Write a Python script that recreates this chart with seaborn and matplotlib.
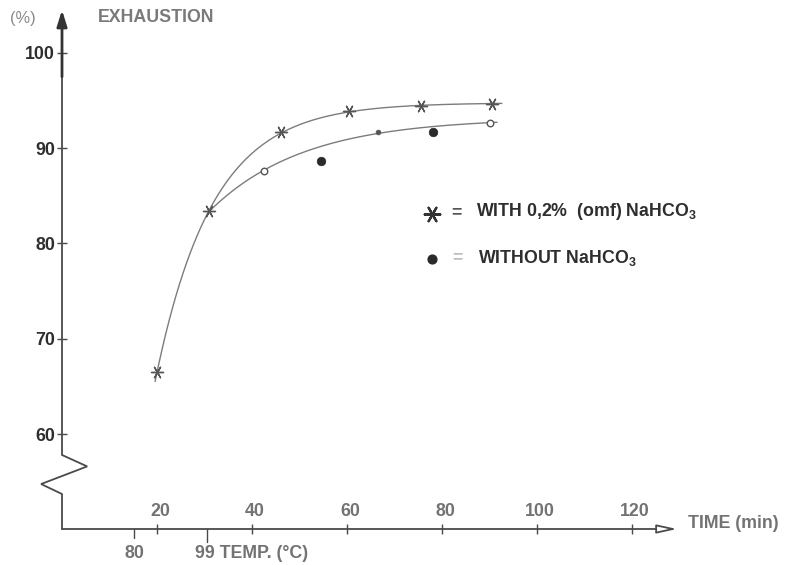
import numpy as np
import pandas as pd
import matplotlib
matplotlib.use("Agg")
import matplotlib.pyplot as plt
import matplotlib.transforms as mtransforms
import seaborn as sns

# ---- readings -------------------------------------------------------------
# dyeing with 0.2 % (omf) NaHCO3
with_time = [20, 31, 46, 60.5, 75.5, 90.5]
with_pct = [66.5, 83.4, 91.7, 93.9, 94.4, 94.65]

# dyeing without NaHCO3
without_time = [42.5, 54.5, 66.5, 78, 90]
without_pct = [87.6, 88.7, 91.7, 91.7, 92.6]
without_kind = ["open", "filled", "dot", "filled", "open"]   # open/dot lie on the drawn curve

time_ticks = [20, 40, 60, 80, 100, 120]
pct_ticks = [60, 70, 80, 90, 100]

# temperature scale under the time axis (heating ramp reaches 99 °C)
temp_time = [15.2, 30.5]
temp_labels = ["80", "99"]

# ---- style ----------------------------------------------------------------
sns.set_theme(style="white")
plt.rcParams["font.family"] = ["Liberation Sans", "DejaVu Sans"]
plt.rcParams["font.weight"] = "bold"
plt.rcParams["mathtext.fontset"] = "custom"
plt.rcParams["mathtext.rm"] = "Liberation Sans:bold"
plt.rcParams["mathtext.it"] = "Liberation Sans:bold"
plt.rcParams["mathtext.bf"] = "Liberation Sans:bold"

AXIS = "#4a4a4a"
CURVE = "#7c7c7c"
MARK = "#555555"
DARK = "#2e2e2e"
GREY = "#737373"
FS = 12.8

W, H = 785, 565
fig = plt.figure(figsize=(W / 100, H / 100), dpi=100)


def fx(x):
    return x / W


def fy(y):
    return 1 - y / H


ax = fig.add_axes([fx(62), fy(529), 615 / W, 519 / H])
XMAX, YMIN, YMAX = 129.47, 50.03, 104.51
ax.set_xlim(0, XMAX)
ax.set_ylim(YMIN, YMAX)
for s in ax.spines.values():
    s.set_visible(False)
ax.patch.set_alpha(0)


def saturating_fit(t, v):
    """Least-squares fit of v = a - b*exp(-k t)."""
    t = np.asarray(t, float)
    v = np.asarray(v, float)
    best = None
    for k in np.linspace(0.005, 0.3, 3000):
        X = np.column_stack([np.ones_like(t), -np.exp(-k * t)])
        coef = np.linalg.lstsq(X, v, rcond=None)[0]
        err = np.sum((X @ coef - v) ** 2)
        if best is None or err < best[0]:
            best = (err, coef[0], coef[1], k)
    _, a, b, k = best
    return lambda x: a - b * np.exp(-k * x)


# ---- curves ---------------------------------------------------------------
f_with = saturating_fit(with_time, with_pct)
tw = np.linspace(19.6, 92.6, 300)
sns.lineplot(x=tw, y=f_with(tw), ax=ax, color=CURVE, lw=1.0, sort=False,
             estimator=None, zorder=2)

on_curve = [k != "filled" for k in without_kind]
fit_t = [with_time[1]] + [t for t, o in zip(without_time, on_curve) if o]
fit_v = [with_pct[1]] + [v for v, o in zip(without_pct, on_curve) if o]
f_without = saturating_fit(fit_t, fit_v)
tn = np.linspace(with_time[1], 91.6, 300)
sns.lineplot(x=tn, y=f_without(tn), ax=ax, color=CURVE, lw=1.0, sort=False,
             estimator=None, zorder=2)

# ---- markers --------------------------------------------------------------
ASTER = (6, 2, 90)
sns.scatterplot(x=with_time, y=with_pct, ax=ax, marker=ASTER, s=75,
                color=MARK, linewidth=1.0, zorder=3)

df = pd.DataFrame({"t": without_time, "v": without_pct, "kind": without_kind})
d = df[df.kind == "open"]
sns.scatterplot(data=d, x="t", y="v", ax=ax, marker="o", s=22,
                facecolor="white", edgecolor=MARK, linewidth=1.0, zorder=3)
d = df[df.kind == "dot"]
sns.scatterplot(data=d, x="t", y="v", ax=ax, marker="o", s=12,
                color=MARK, edgecolor=MARK, linewidth=0.5, zorder=3)
d = df[df.kind == "filled"]
sns.scatterplot(data=d, x="t", y="v", ax=ax, marker="o", s=38,
                color="#2a2a2a", edgecolor="#2a2a2a", linewidth=0.5, zorder=3)
ax.set_xlabel("")
ax.set_ylabel("")

# ---- axes lines -----------------------------------------------------------
# time axis with open arrow head
ax.annotate("", xy=(XMAX, YMIN), xytext=(0, YMIN), xycoords="data",
            arrowprops=dict(arrowstyle="-|>,head_length=1.0,head_width=0.22",
                            color=AXIS, fc="white", lw=1.3,
                            shrinkA=0, shrinkB=0),
            annotation_clip=False)
# exhaustion axis with a break below 60 %
ax.plot([0, 0, -4.4, 5.3, 0, 0], [YMIN, 53.7, 54.75, 56.6, 57.8, 98],
        color=AXIS, lw=1.3, clip_on=False, solid_joinstyle="miter")
ax.annotate("", xy=(0, YMAX), xytext=(0, 97.5), xycoords="data",
            arrowprops=dict(arrowstyle="-|>,head_length=0.8,head_width=0.25",
                            color="#333333", lw=2.0, shrinkA=0, shrinkB=0),
            annotation_clip=False)

# ---- ticks ----------------------------------------------------------------
ax.set_yticks(pct_ticks)
ax.set_yticklabels([str(v) for v in pct_ticks])
ax.tick_params(axis="y", direction="inout", length=7, width=1.0,
               color=AXIS, pad=1.5, labelsize=FS, labelcolor=DARK, left=True)
ax.set_xticks(time_ticks)
ax.set_xticklabels([str(v) for v in time_ticks])
ax.tick_params(axis="x", direction="inout", length=7, width=1.0,
               color=AXIS, pad=-22.5, labelsize=FS, labelcolor=GREY, bottom=True)
for lab in ax.get_xticklabels():
    lab.set_transform(lab.get_transform()
                      + mtransforms.ScaledTranslation(3 / 100, 0, fig.dpi_scale_trans))

# temperature marks below the time axis
blend = mtransforms.blended_transform_factory(ax.transData, ax.transAxes)
for t, depth in zip(temp_time, [-9 / 519, -13 / 519]):
    ax.plot([t, t], [0, depth], transform=blend, color=AXIS, lw=1.0, clip_on=False)
ax.text(temp_time[0], -25 / 519, temp_labels[0], transform=blend, ha="center",
        va="center", fontsize=FS, color=GREY)
ax.annotate(temp_labels[1] + " TEMP. (°C)", xy=(temp_time[1], 0),
            xycoords=blend, xytext=(-12 * 0.72, -25 * 0.72),
            textcoords="offset points", ha="left", va="center",
            fontsize=FS, color=GREY)

# ---- axis titles ----------------------------------------------------------
fig.text(fx(10), fy(18), "(%)", ha="left", va="center", fontsize=FS - 1,
         fontweight="normal", color="#8a8a8a")
fig.text(fx(98), fy(18), "EXHAUSTION", ha="left", va="center", fontsize=FS,
         color="#7a7a7a")
fig.text(fx(688), fy(524), "TIME (min)", ha="left", va="center", fontsize=FS,
         color=GREY)

# ---- key ------------------------------------------------------------------
ax.scatter([fx(432)], [fy(214)], transform=fig.transFigure, marker=ASTER,
           s=125, color="#333333", linewidth=1.6, clip_on=False, zorder=4)
ax.scatter([fx(432)], [fy(259)], transform=fig.transFigure, marker="o",
           s=40, color="#2a2a2a", clip_on=False, zorder=4)
fig.text(fx(451), fy(213), "=", ha="left", va="center", fontsize=FS,
         color="#555555")
fig.text(fx(476), fy(212), "WITH 0,2%  (omf) NaHCO$_3$", ha="left",
         va="center", fontsize=FS, color=DARK)
fig.text(fx(452), fy(258), "=", ha="left", va="center", fontsize=FS,
         color="#bdbdbd")
fig.text(fx(478), fy(258), "WITHOUT NaHCO$_3$", ha="left", va="center",
         fontsize=FS, color=DARK)

fig.savefig("out.png", dpi=100)
